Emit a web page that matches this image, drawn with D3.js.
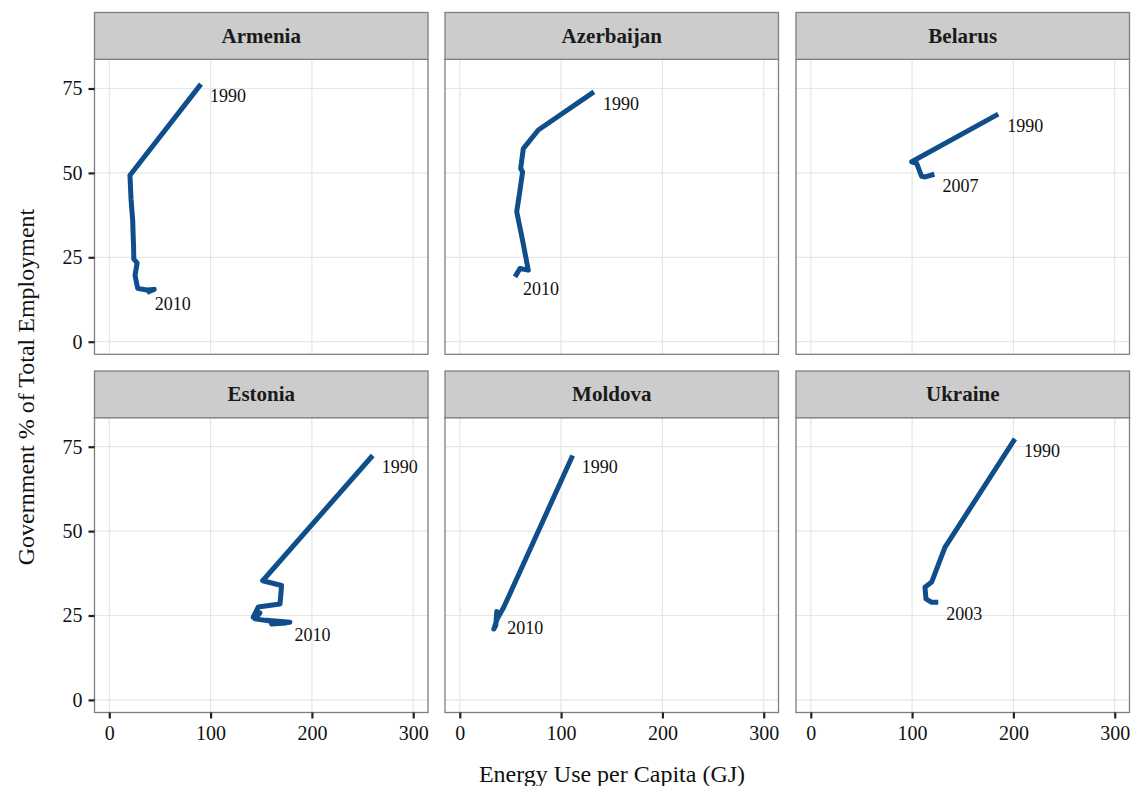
<!DOCTYPE html>
<html><head><meta charset="utf-8">
<script src="https://cdn.jsdelivr.net/npm/d3@7"></script>
<style>body{margin:0;background:#fff}svg{display:block}</style>
</head><body>
<svg id="c" width="1142" height="786"></svg>
<script>
const countries = ["Armenia","Azerbaijan","Belarus","Estonia","Moldova","Ukraine"];
const startYears = ["1990","1990","1990","1990","1990","1990"];
const endYears = ["2010","2010","2007","2010","2010","2003"];
const armenia = [[90.5,76.3],[20.4,49.3],[21.5,42],[23.1,36],[23.5,32],[24,28],[24.2,24.5],[27.5,23.3],[25.4,19.7],[28,15.8],[36.9,15.3],[44.4,15.5],[37,14.6]];
const azerbaijan = [[132.4,74.0],[77.5,62.7],[62.7,57.2],[60.1,51.3],[62,50.3],[59,44],[56.2,38.5],[62,30],[67.6,21.2],[59.4,21.7],[54.5,19.2]];
const belarus = [[185,67.4],[99.6,53.3],[104.5,52.8],[109.4,49.0],[113,48.8],[122,49.6]];
const estonia = [[260,72.4],[151.4,35.3],[170.1,33.9],[168.5,28.4],[147,27.5],[142.1,24.5],[148.7,25.8],[143.8,24.0],[161.8,23.2],[155,23.6],[178.3,23.0],[160.2,22.5],[175,22.8]];
const moldova = [[111.4,72.4],[43.5,27.5],[37,24],[33.6,21],[35.5,22],[36.5,26.2],[39,24.8]];
const ukraine = [[201.5,77.3],[132.4,45.2],[119.3,34.9],[112.7,33.4],[113.7,29.9],[119.3,28.9],[125.8,28.9]];
const seriesData = [armenia, azerbaijan, belarus, estonia, moldova, ukraine];
const xTicks = [0,100,200,300];
const yTicks = [0,25,50,75];
const xTitle = "Energy Use per Capita (GJ)";
const yTitle = "Government % of Total Employment";

const svg = d3.select("#c");
const font = "'Liberation Serif','Times New Roman',serif";
const colLeft = [94.5, 445, 796], panelW = 333.5;
const stripTop = [12.5, 371], stripH = 46.8, panelTop = [59.3, 417.5], panelH = 295;
const lineColor = "#104E8B";

countries.forEach((name, i) => {
  const col = i % 3, row = Math.floor(i / 3);
  const x0 = colLeft[col], y0 = panelTop[row];
  const x = d3.scaleLinear().domain([-14.6, 314.6]).range([x0, x0 + panelW]);
  const y = d3.scaleLinear().domain([-3.73, 83.65]).range([y0 + panelH, y0]);
  const g = svg.append("g");
  g.append("rect").attr("x", x0).attr("y", y0).attr("width", panelW).attr("height", panelH).attr("fill", "#fff");
  g.selectAll(".gx").data(xTicks).enter().append("line")
    .attr("x1", d => x(d)).attr("x2", d => x(d)).attr("y1", y0).attr("y2", y0 + panelH)
    .attr("stroke", "#e6e6e6").attr("stroke-width", 1.2);
  g.selectAll(".gy").data(yTicks).enter().append("line")
    .attr("y1", d => y(d)).attr("y2", d => y(d)).attr("x1", x0).attr("x2", x0 + panelW)
    .attr("stroke", "#e6e6e6").attr("stroke-width", 1.2);
  const data = seriesData[i];
  g.append("path").datum(data)
    .attr("d", d3.line().x(d => x(d[0])).y(d => y(d[1])))
    .attr("fill", "none").attr("stroke", lineColor).attr("stroke-width", 5)
    .attr("stroke-linejoin", "round").attr("stroke-linecap", "butt");
  const s = data[0], e = data[data.length - 1];
  g.append("text").attr("x", x(s[0]) + 9).attr("y", y(s[1]) + 18)
    .attr("font-family", font).attr("font-size", 18).attr("fill", "#111").text(startYears[i]);
  g.append("text").attr("x", x(e[0]) + 8).attr("y", y(e[1]) + 18)
    .attr("font-family", font).attr("font-size", 18).attr("fill", "#111").text(endYears[i]);
  g.append("rect").attr("x", x0).attr("y", y0).attr("width", panelW).attr("height", panelH)
    .attr("fill", "none").attr("stroke", "#7f7f7f").attr("stroke-width", 1.3);
  g.append("rect").attr("x", x0).attr("y", stripTop[row]).attr("width", panelW).attr("height", stripH)
    .attr("fill", "#cccccc").attr("stroke", "#7f7f7f").attr("stroke-width", 1.3);
  g.append("text").attr("x", x0 + panelW / 2).attr("y", stripTop[row] + stripH / 2 + 7)
    .attr("text-anchor", "middle").attr("font-family", font).attr("font-weight", "bold")
    .attr("font-size", 21).attr("fill", "#1a1a1a").text(name);
  if (row === 1) {
    const ax = g.append("g").attr("transform", `translate(0,${y0 + panelH})`)
      .call(d3.axisBottom(x).tickValues(xTicks).tickSize(6).tickPadding(7).tickFormat(d3.format("d")));
    ax.select(".domain").remove();
    ax.selectAll("line").attr("stroke", "#222").attr("stroke-width", 2.2);
    ax.selectAll("text").attr("font-family", font).attr("font-size", 20).attr("fill", "#111");
  }
  if (col === 0) {
    const ay = g.append("g").attr("transform", `translate(${x0},0)`)
      .call(d3.axisLeft(y).tickValues(yTicks).tickSize(6).tickPadding(6).tickFormat(d3.format("d")));
    ay.select(".domain").remove();
    ay.selectAll("line").attr("stroke", "#222").attr("stroke-width", 2.2);
    ay.selectAll("text").attr("font-family", font).attr("font-size", 20).attr("fill", "#111");
  }
});

svg.append("text").attr("x", 612).attr("y", 782).attr("text-anchor", "middle")
  .attr("font-family", font).attr("font-size", 24).attr("fill", "#111").text(xTitle);
svg.append("text").attr("transform", "translate(34,387) rotate(-90)").attr("text-anchor", "middle")
  .attr("font-family", font).attr("font-size", 24).attr("fill", "#111").text(yTitle);
</script>
</body></html>
